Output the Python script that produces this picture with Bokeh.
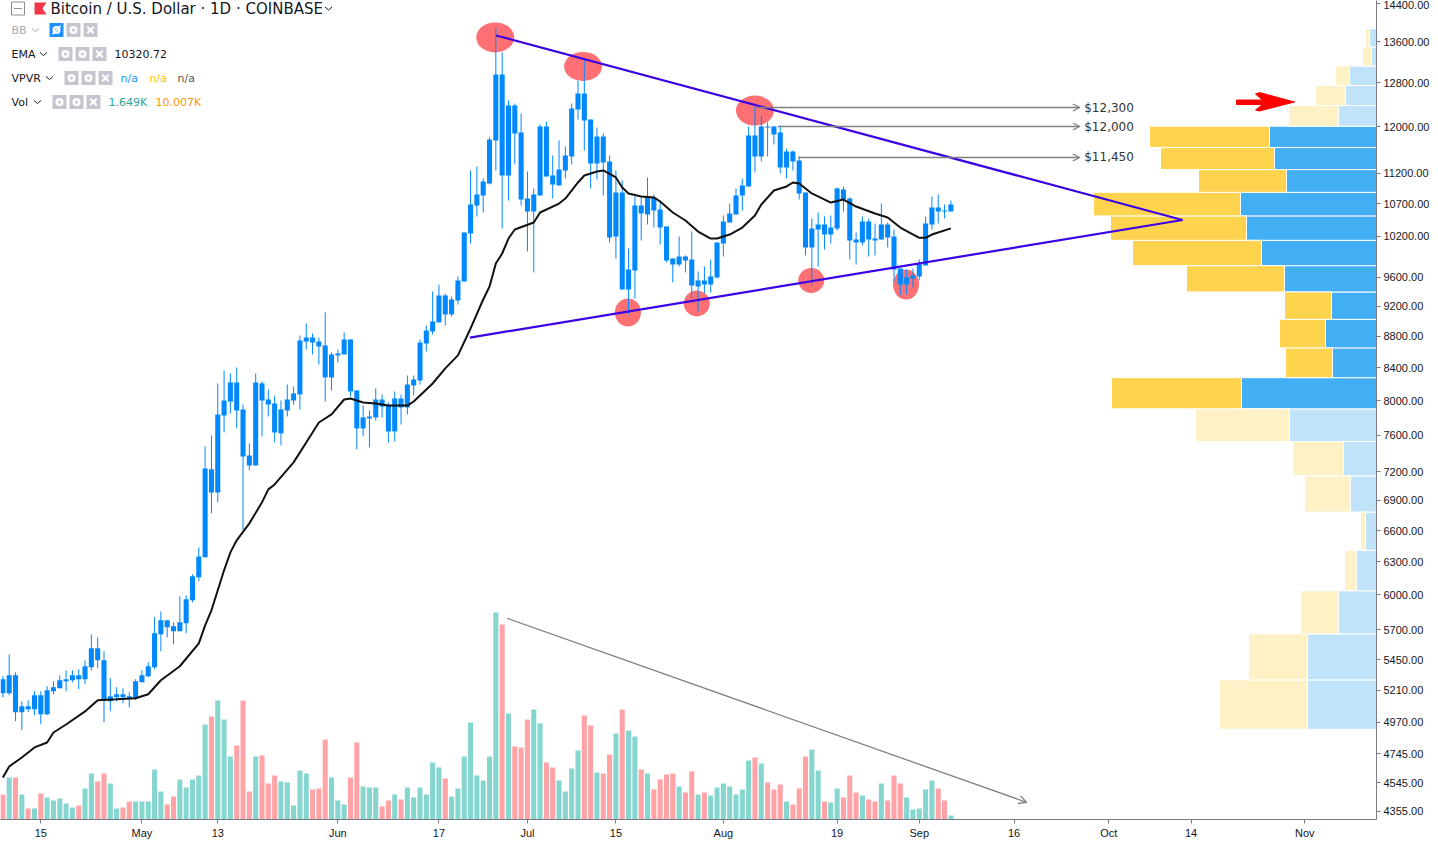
import math
from bokeh.core.properties import value
from bokeh.embed import file_html
from bokeh.models import (Arrow, FixedTicker, Label, LinearScale,
                          NumeralTickFormatter, OpenHead, Range1d)
from bokeh.plotting import figure
from bokeh.resources import INLINE

# ---------- daily candles, 2019: day 0 is 15 April ----------
days = list(range(-6, 145))
body_tops = [5296,5327,5327,5089,5089,5172,5172,5211,5234,5288,5296,5327,5327,5399,5544,5544,5447,5164,5180,5180,5164,5280,5327,5399,5669,5779,5779,5728,5762,5961,6168,6352,
 7235,7225,7837,8000,8217,8217,7895,7376,8217,8205,8012,7965,7895,8012,8084,8743,8782,8782,8730,8679,8564,8577,8756,8756,8120,7802,7813,8012,8012,7941,8024,8024,8192,8253,8717,8873,8993,9345,9345,9290,9555,10258,
 10691,10851,11062,11771,12960,12960,12379,12379,11894,10787,10851,12000,12000,11161,11261,11496,12324,12601,12601,12125,11824,11824,11394,10883,10883,9711,10676,10676,10804,10804,10613,10349,9871,9900,9900,9856,9555,9555,9612,10107,
 10426,10550,10835,10997,11841,11841,12000,12000,12000,11894,11564,11564,11411,10883,10318,10380,10380,10334,10948,10932,10787,10152,10426,10426,10167,10380,10380,10197,9726,9598,9626,9798,10395,10644,10644,10597,10691]
body_bottoms = [5188,5188,5044,5044,5066,5066,5029,5029,5203,5226,5280,5288,5296,5296,5391,5447,5134,5126,5157,5157,5149,5149,5272,5320,5391,5660,5720,5686,5686,5754,5952,6159,
 6343,6983,6983,7825,7988,7883,7365,7267,7267,8000,7953,7631,7620,7883,8000,8072,8730,8717,8666,8278,8278,8552,8564,8108,7676,7676,7790,7802,7929,7642,7642,7918,7918,8180,8241,8704,8860,8980,9087,9087,9276,9541,
 10243,10676,10835,11030,11754,11161,11161,11876,10771,10581,10581,10835,11144,11014,10997,11244,11479,12305,12107,11361,11361,11378,10182,10197,9428,9428,9697,10550,10534,10597,10334,9842,9784,9784,9842,9484,9470,9498,9498,9598,
 10092,10411,10534,10835,10981,11479,11479,11982,11859,11294,11294,11394,10868,10033,10033,10303,10227,10227,10318,10771,10137,10107,10107,10152,10137,10152,10182,9711,9498,9498,9583,9612,9769,10380,10581,10581,10581]
highs = [5320,5495,5351,5126,5134,5203,5203,5242,5280,5327,5367,5367,5375,5447,5660,5635,5520,5304,5234,5226,5195,5296,5367,5431,5805,5856,5779,5762,5988,5997,6186,6438,
 7474,7597,8205,8364,8327,8401,7953,7507,8327,8229,8132,8060,8000,8192,8168,8808,8966,8834,8782,9113,8590,8628,8847,8756,8120,7941,7883,8144,8072,7976,8108,8072,8302,8302,8756,8939,9400,9498,9373,9331,9612,10258,
 11244,11311,11112,11806,13894,13388,12471,12416,12233,11227,10948,12036,12089,11496,11754,11650,12416,12845,13231,12125,11982,11876,11496,11244,11079,10018,10820,10804,11128,10851,10755,10349,9871,10197,9915,10273,9683,9755,9856,10107,
 10519,10707,10948,11112,12000,12361,12179,12071,12000,12018,11615,11581,11479,10883,10473,10566,10504,10519,10965,10981,10804,10258,10504,10473,10395,10707,10411,10303,9726,9711,9726,9856,10504,10820,10851,10691,10755]
lows = [5157,5172,4978,4911,5044,5022,4955,5022,5180,5226,5203,5272,5219,5257,5367,5383,4970,5052,5126,5111,5081,5134,5272,5312,5375,5520,5635,5577,5686,5669,5935,6122,
 6343,6770,6881,7631,7848,7676,6602,7214,7267,7586,7813,7519,7485,7813,7953,7895,8628,8564,8438,7988,8120,8463,8564,8048,7441,7586,7463,7767,7802,7519,7530,7721,7837,8060,8192,8602,8820,8980,8939,9060,9222,9541,
 10092,10504,10566,11014,11244,10318,10755,11344,10676,9973,9669,10835,11144,10787,10997,11112,11344,12125,11581,10948,11095,10835,10107,9871,9428,9087,9304,10137,10380,10334,10077,9813,9527,9755,9669,9304,9127,9373,9386,9583,
 9900,10411,10534,10597,10981,11211,11394,11479,11685,11194,11112,11244,10771,9915,9484,9755,10003,10092,10288,10581,9856,9784,10062,9900,9915,10152,10033,9541,9345,9359,9456,9555,9769,10303,10395,10473,10581]

# ---------- volume, thousands ----------
volumes_k = [10,16.8,16.8,10,4.4,4.4,10.4,8.8,7.6,8.4,6.4,4.8,5.6,12.4,18.4,15.2,18.4,14.4,4.4,4.8,7.2,7.2,7.2,7.2,20,11.2,6,9.2,16,12.8,16,17.6,
 38,41.2,47.6,40,25.2,29.6,47.6,11.2,25.2,25.6,14.4,17.6,15.2,14.8,5.6,19.6,18.4,12,12.4,32,16.8,7.6,6,16.8,30.8,13.2,12.8,12.8,5.2,7.6,10,8,12.8,8.8,12.8,10,22.8,20.8,16.4,9.2,12.4,25.2,
 38.8,17.6,15.6,25.2,82.8,78,42.4,29.2,28.8,40,44,38.4,22.8,20.8,15.6,11.2,20.4,27.6,41.6,37.6,18.8,18.4,26,34.4,44,35.6,33.2,20,18.4,12,16,18,18.4,13.2,10.8,19.2,10,10.8,9.6,12.8,
 14.4,13.2,10,12,23.6,24.8,22.4,14.8,12,14,7.2,6,12.4,25.2,28,19.6,7.2,6.8,12.4,8.8,17.6,10.8,9.6,8,7.2,14.4,7.6,17.6,14.4,8.8,4,4.4,12,15.6,12.4,7.6,1.649]
volume_up = [0,1,0,1,0,1,0,1,1,1,1,1,0,1,1,0,0,1,1,0,0,1,1,1,1,1,0,0,1,1,1,1,
 1,0,1,1,1,0,0,0,1,0,0,0,1,1,1,1,1,0,0,0,1,1,1,0,0,1,1,1,0,0,1,0,1,1,1,1,1,1,0,1,1,1,
 1,1,1,1,1,0,1,0,0,0,1,1,0,0,1,1,1,1,0,0,1,0,0,1,0,1,1,0,1,0,0,0,0,1,0,0,1,0,1,1,
 1,1,1,1,1,0,1,0,0,0,1,0,0,0,1,1,0,1,1,0,0,0,1,0,0,1,0,0,0,1,1,1,1,1,0,0,1]

# ---------- EMA ----------
ema_days = [-6,-5,-3,-1,1,2,4,7,9,12,15,17,19,22,25,26,27,29,30,31,33,35,36,37,40,43,44,46,48,49,51,53,55,58,59,62,64,66,68,70,71,72,73,74,75,78,79,82,83,85,86,88,89,91,92,93,95,97,98,100,102,104,106,107,109,111,113,114,116,118,119,120,122,125,127,129,132,134,136,139,140,141,144]
ema_values = [4579,4655,4717,4788,4823,4895,4953,5050,5134,5141,5149,5180,5288,5399,5585,5736,5865,6223,6390,6505,6670,6881,7014,7066,7300,7630,7744,7837,8012,8024,7976,7964,7940,7940,7988,8204,8389,8552,8900,9290,9470,9798,9944,10167,10303,10411,10566,10707,10787,11046,11161,11227,11244,11128,10965,10868,10820,10804,10739,10566,10442,10273,10167,10167,10227,10334,10520,10690,10916,10981,11046,11030,10868,10723,10771,10660,10550,10488,10334,10177,10177,10227,10320.72]

# ---------- volume profile, bottom row to top row ----------
vpvr_edges = [4918,5291,5664,6037,6410,6783,7156,7529,7902,8275,8648,9021,9394,9767,10140,10513,10886,11259,11632,12005,12378,12751,13124,13497,13870]
vpvr_up = [138,138,76,40,22,52,66,174,270,88,102,90,184,230,260,272,180,204,214,76,62,54,10,14]
vpvr_down = [176,118,76,24,10,92,102,188,260,94,92,94,196,258,272,294,176,228,240,100,60,28,18,8]
vpvr_value_area = [0,0,0,0,0,0,0,0,1,1,1,1,1,1,1,1,1,1,1,0,0,0,0,0]

# ---------- axes ----------
price_ticks = [4355,4545,4745,4970,5210,5450,5700,6000,6300,6600,6900,7200,7600,8000,8400,8800,9200,9600,10200,10700,11200,12000,12800,13600,14400]
date_ticks = {0:"15",16:"May",28:"13",47:"Jun",63:"17",77:"Jul",91:"15",108:"Aug",126:"19",139:"Sep",154:"16",169:"Oct",182:"14",200:"Nov"}

# ---------- drawings ----------
resistance_days, resistance_prices = [72.05, 180.65], [13730, 10450]
support_days, support_prices = [67.9, 180.65], [8781, 10450]
touch_days = [71.9, 85.8, 113, 92.9, 103.8, 121.9, 136.9]
touch_prices = [13690, 13115, 12287, 9113, 9236, 9555, 9498]
touch_w = [38, 38, 38, 26, 26, 26, 26]
touch_h = [30, 29, 30, 28, 26, 25, 30]
level_starts = [113.3, 116.6, 119.8]
level_prices = [12342, 12000, 11462]
level_texts = ["$12,300", "$12,000", "$11,450"]

# page-pixel geometry of the price pane
PX_PER_DAY, DAY0_PX = 6.32, 40.3
def xd(px): return (px - DAY0_PX) / PX_PER_DAY
def yd(py): return 12000 * math.exp((126 - py) / 675.8)
RIGHT, BOTTOM = 1376, 819
FRAME_W, FRAME_H = RIGHT, BOTTOM

p = figure(frame_width=FRAME_W, frame_height=FRAME_H, y_axis_type="log", y_axis_location="right",
           x_range=Range1d(xd(0), xd(RIGHT)), y_range=Range1d(yd(BOTTOM), yd(0)),
           output_backend="svg", toolbar_location=None, min_border=0,
           min_border_left=0, min_border_right=0, min_border_top=0, min_border_bottom=24,
           background_fill_color="white", border_fill_color="white")
p.outline_line_color = None
p.grid.visible = False
p.extra_y_ranges = {"vol": Range1d(0, FRAME_H * 0.4)}
p.extra_y_scales = {"vol": LinearScale()}
p.extra_x_ranges = {"vpvr": Range1d(FRAME_W * 2, 0)}
p.extra_x_scales = {"vpvr": LinearScale()}

AXIS = "#787b86"
TXT = "#131722"
xa, ya = p.xaxis[0], p.yaxis[0]
xa.ticker = FixedTicker(ticks=list(date_ticks), minor_ticks=[])
xa.major_label_overrides = dict(date_ticks)
ya.ticker = FixedTicker(ticks=price_ticks, minor_ticks=[])
ya.formatter = NumeralTickFormatter(format="0.00")
for a in (xa, ya):
    a.axis_line_color = AXIS
    a.major_tick_line_color = AXIS
    a.major_tick_in = 0
    a.major_tick_out = 4
    a.minor_tick_line_color = None
    a.major_label_text_color = TXT
    a.major_label_text_font = "Liberation Sans"
    a.major_label_text_font_size = "11px"
    a.major_label_standoff = 3

# volume profile
bottoms, tops = vpvr_edges[:-1], vpvr_edges[1:]
split = vpvr_up
totals = [u + d for u, d in zip(vpvr_up, vpvr_down)]
blue = ["#42aef3" if v else "#c1e3fa" for v in vpvr_value_area]
yellow = ["#ffd34d" if v else "#fef1c5" for v in vpvr_value_area]
p.quad(left=[0] * len(split), right=split, bottom=bottoms, top=tops, x_range_name="vpvr",
       fill_color=blue, line_color="white", line_width=1)
p.quad(left=split, right=totals, bottom=bottoms, top=tops, x_range_name="vpvr",
       fill_color=yellow, line_color="white", line_width=1)

# touch points under the candles
p.ellipse(x=touch_days, y=touch_prices, width=touch_w, height=touch_h,
          width_units="screen", height_units="screen",
          fill_color="#ff7074", line_color=None)

# volume bars
vol_colors = ["#85d6cf" if u else "#ffa3a6" for u in volume_up]
p.vbar(x=days, width=0.8, bottom=0, top=volumes_k, y_range_name="vol", fill_color=vol_colors, line_color=None)

# candles
CANDLE = "#0088ff"
p.segment(x0=days, x1=days, y0=lows, y1=highs, line_color=CANDLE, line_width=1)
p.vbar(x=days, width=0.8, bottom=body_bottoms, top=body_tops, fill_color=CANDLE, line_color=None)

# EMA
p.line(ema_days, ema_values, line_color="#111111", line_width=2)

# trend lines
PURPLE = "#3c00e6"
p.line(resistance_days, resistance_prices, line_color=PURPLE, line_width=2.2)
p.line(support_days, support_prices, line_color=PURPLE, line_width=2.2)

GREY = "#808080"
for start, price in zip(level_starts, level_prices):
    p.add_layout(Arrow(x_start=start, y_start=price, x_end=164.4, y_end=price, line_color=GREY, line_width=1.3,
                       end=OpenHead(size=7, line_color=GREY, line_width=1.3)))
p.text(x=[165.1] * 3, y=level_prices, text=level_texts, text_font=value("DejaVu Sans"), text_font_size="12px",
       text_color="#333333", text_baseline="middle")
p.add_layout(Arrow(x_start=73.8, y_start=5796, x_end=156, y_end=4414, line_color=GREY, line_width=1.3,
                   end=OpenHead(size=8, line_color=GREY, line_width=1.3)))

# hand-drawn red arrow
ra = [(1236,99.5),(1262,99.5),(1255,93.5),(1259,92),(1294,101.5),(1259,110.5),(1255,109.5),(1262,104),(1236,104)]
p.patch([xd(a) for a, b in ra], [yd(b) for a, b in ra], fill_color="#ff0000", line_color="#ff0000", line_width=1)

# legend block
def text(s, x, y, color=TXT, size="11px", font="DejaVu Sans"):
    p.add_layout(Label(x=x, y=y, x_units="canvas", y_units="canvas", text=s, text_color=color,
                       text_font=font, text_font_size=size, text_baseline="middle"))

def chevron(cx, cy, color=TXT):
    p.line([xd(cx - 3.5), xd(cx), xd(cx + 3.5)], [yd(cy - 1.5), yd(cy + 1.5), yd(cy - 1.5)], line_color=color, line_width=1)

def buttons(xs, cy, first="#c5c7d0"):
    ys = [yd(cy)] * 3
    ds = [xd(x) for x in xs]
    p.scatter(ds, ys, marker="square", size=14, fill_color=[first, "#c5c7d0", "#c5c7d0"], line_color=None)
    p.scatter(ds[:2], ys[:2], marker="circle", size=8, fill_color="white", line_color=None)
    p.scatter(ds[:2], ys[:2], marker="circle", size=3, fill_color=[first, "#c5c7d0"], line_color=None)
    p.scatter(ds[2:], ys[2:], marker="x", size=9, line_color="white", line_width=2)

rows = [("BB", 29.5, "#a9abb3", 35, [56, 73, 90], "#1e90ff"),
        ("EMA", 53.5, TXT, 43, [65, 82, 99], "#c5c7d0"),
        ("VPVR", 77.5, TXT, 49, [71, 88, 105], "#c5c7d0"),
        ("Vol", 101.5, TXT, 37, [59, 76, 93], "#c5c7d0")]
for name, cy, color, cx, bx, first in rows:
    text(name, 11, cy, color)
    chevron(cx, cy, "#a9abb3" if name == "BB" else TXT)
    buttons(bx, cy, first)
# struck-through eye on the hidden BB row
p.scatter([xd(56)], [yd(29.5)], marker="dash", size=12, angle=0.8, line_color="white", line_width=1.5)
text("10320.72", 114, 53.5)
text("n/a", 120, 77.5, "#2196f3")
text("n/a", 149, 77.5, "#ffc107")
text("n/a", 177, 77.5, "#555555")
text("1.649K", 108, 101.5, "#26a69a")
text("10.007K", 155, 101.5, "#ff9800")

# title row
TITLE_Y = 8
p.scatter([xd(17.5)], [yd(TITLE_Y)], marker="square", size=13, fill_color="white", line_color="#8a8d96")
p.line([xd(13.5), xd(21.5)], [yd(TITLE_Y)] * 2, line_color="#8a8d96", line_width=1)
flag = [(34, 2), (46, 2), (42, 8), (46, 14), (34, 14)]
p.patch([xd(a) for a, b in flag], [yd(b) for a, b in flag], fill_color="#f23645", line_color=None)
text("Bitcoin / U.S. Dollar · 1D · COINBASE", 50, TITLE_Y, TXT, "15px")
chevron(328, TITLE_Y, TXT)

# settings button in the corner: an empty, outlined, rounded label (labels are not clipped to the frame)
p.add_layout(Label(x=1407, y=834, x_units="canvas", y_units="canvas", text=" ", text_font_size="1px",
                   text_align="center", text_baseline="middle", padding=6, border_radius=6,
                   border_line_color=TXT, border_line_width=1, background_fill_color="white"))

assert len(body_tops) == len(body_bottoms) == len(highs) == len(lows) == len(volumes_k) == len(volume_up) == len(days)

open("out.html", "w").write(file_html(p, INLINE))
